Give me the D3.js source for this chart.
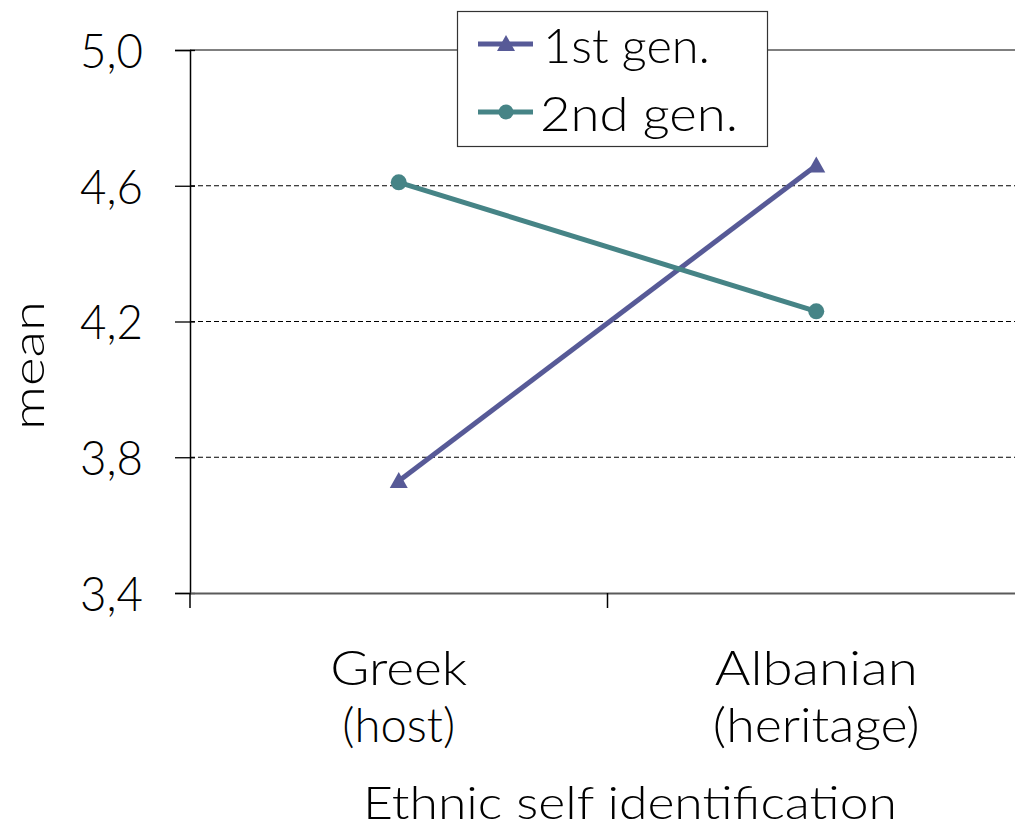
<!DOCTYPE html>
<html>
<head>
<meta charset="utf-8">
<script src="https://cdn.jsdelivr.net/npm/d3@7"></script>
<style>
  html, body { margin: 0; padding: 0; background: #fff; }
  svg { display: block; }
  text { font-family: "Lato", "Open Sans", sans-serif; font-weight: 300; fill: #000; }
</style>
</head>
<body>
<svg id="chart" width="1015" height="829"></svg>
<script>
const categories = ["Greek\n(host)", "Albanian\n(heritage)"];
const seriesNames = ["1st gen.", "2nd gen."];
const firstGen = [3.73, 4.66];
const secondGen = [4.61, 4.23];
const yTicks = [3.4, 3.8, 4.2, 4.6, 5.0];
const yTickLabels = ["3,4", "3,8", "4,2", "4,6", "5,0"];
const xTitle = "Ethnic self identification";
const yTitle = "mean";
const colors = ["#575A97", "#468486"];

// layout: rendered text widths, to mimic the wide geometric face of the original
const textWidths = {
  "Greek": 137, "(host)": 113, "Albanian": 203, "(heritage)": 207,
  "Ethnic self identification": 534, "mean": 129,
  "1st gen.": 167, "2nd gen.": 198
};

const svg = d3.select("#chart");
const pL = 190, pR = 1025, pT = 50, pB = 593;

const x = d3.scalePoint().domain(categories).range([pL, pR]).padding(0.5);
const xBand = d3.scaleBand().domain(categories).range([pL, pR]);
const y = d3.scaleLinear().domain([3.4, 5.0]).range([pB, pT]);

const fs = 48;
function fit(sel, t) {
  const w = textWidths[t];
  if (w) sel.attr("textLength", w).attr("lengthAdjust", "spacingAndGlyphs");
  return sel;
}

// gridlines
svg.append("g").selectAll("line").data(yTicks.filter(d => d > 3.4)).join("line")
  .attr("x1", pL).attr("x2", 1015)
  .attr("y1", d => y(d)).attr("y2", d => y(d))
  .attr("stroke", "#000").attr("stroke-width", 1)
  .attr("stroke-dasharray", d => d === 5.0 ? null : "5,3");

// y axis
const yAxis = d3.axisLeft(y).tickValues(yTicks).tickSize(15).tickFormat((d, i) => yTickLabels[i]).tickPadding(32);
const gy = svg.append("g").attr("transform", `translate(${pL},0)`).call(yAxis);
gy.attr("font-family", null).attr("font-size", null);
gy.select(".domain").attr("stroke", "#000").attr("stroke-width", 1.5);
gy.selectAll(".tick line").attr("stroke", "#000").attr("stroke-width", 1.3).attr("x2", -15).attr("x1", 5);
gy.selectAll(".tick text").attr("font-size", fs).attr("fill", "#000").attr("dy", "0.36em")
  .attr("x", -47).attr("textLength", 63).attr("lengthAdjust", "spacingAndGlyphs");

// x axis
const xAxis = d3.axisBottom(xBand).tickSize(0).tickFormat(() => "");
const gx = svg.append("g").attr("transform", `translate(0,${pB})`).call(xAxis);
gx.select(".domain").attr("stroke", "#5a5a5a").attr("stroke-width", 2.2);
const bounds = [pL, pL + xBand.step(), pR];
gx.selectAll("line.bound").data(bounds).join("line").attr("class", "bound")
  .attr("x1", d => d).attr("x2", d => d).attr("y1", 0).attr("y2", 15)
  .attr("stroke", "#000").attr("stroke-width", 1.5);

// x category labels (two lines each)
const xlg = svg.append("g");
categories.forEach(c => {
  c.split("\n").forEach((l, i) => {
    const t = xlg.append("text").attr("x", x(c)).attr("y", 685 + i * 57)
      .attr("text-anchor", "middle").attr("font-size", fs).text(l);
    fit(t, l);
  });
});

// titles
fit(svg.append("text").attr("x", 630).attr("y", 819).attr("text-anchor", "middle")
  .attr("font-size", 46).text(xTitle), xTitle);
fit(svg.append("text").attr("transform", "translate(44,365.5) rotate(-90)").attr("text-anchor", "middle")
  .attr("font-size", 44).text(yTitle), yTitle);

// series
const series = [firstGen, secondGen];
const line = d3.line().x((d, i) => x(categories[i])).y(d => y(d));
series.forEach((s, k) => {
  svg.append("path").datum(s).attr("d", line).attr("fill", "none")
    .attr("stroke", colors[k]).attr("stroke-width", 5);
});
// markers
svg.append("g").selectAll("path").data(firstGen).join("path")
  .attr("transform", (d, i) => `translate(${x(categories[i])},${y(d)})`)
  .attr("d", "M0,-9 L9,7 L-9,7 Z").attr("fill", colors[0]);
svg.append("g").selectAll("circle").data(secondGen).join("circle")
  .attr("cx", (d, i) => x(categories[i])).attr("cy", d => y(d)).attr("r", 8)
  .attr("fill", colors[1]);

// legend
const lg = svg.append("g");
lg.append("rect").attr("x", 457.5).attr("y", 11.5).attr("width", 310).attr("height", 135)
  .attr("fill", "#fff").attr("stroke", "#333").attr("stroke-width", 1.2);
seriesNames.forEach((name, k) => {
  const cy = 44 + k * 68;
  lg.append("line").attr("x1", 478).attr("x2", 533).attr("y1", cy).attr("y2", cy)
    .attr("stroke", colors[k]).attr("stroke-width", 5);
  if (k === 0) {
    lg.append("path").attr("transform", `translate(506,${cy})`).attr("d", "M0,-9 L9,7 L-9,7 Z").attr("fill", colors[0]);
  } else {
    lg.append("circle").attr("cx", 506).attr("cy", cy).attr("r", 7.5).attr("fill", colors[1]);
  }
  fit(lg.append("text").attr("x", k === 0 ? 543 : 540).attr("y", cy + 19).attr("font-size", fs).text(name), name);
});
</script>
</body>
</html>
